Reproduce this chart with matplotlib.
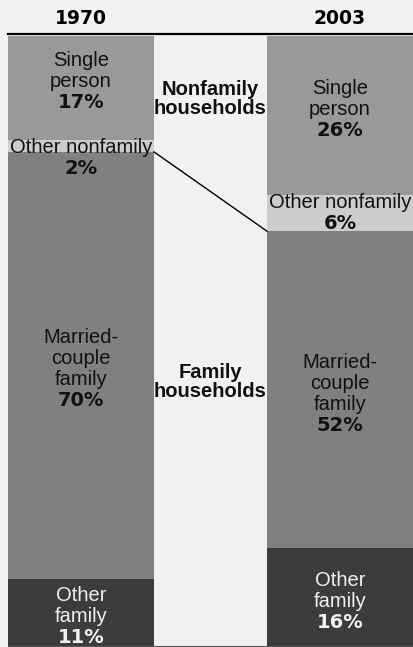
import matplotlib.pyplot as plt

# данi: частки домогосподарств, %, зверху вниз
years = ["1970", "2003"]
categories = ["Single person", "Other nonfamily", "Married-couple family", "Other family"]
labels = [["Single", "person"], ["Other nonfamily"], ["Married-", "couple", "family"], ["Other", "family"]]
values_1970 = [17, 2, 70, 11]
values_2003 = [26, 6, 52, 16]
colors = ["#999999", "#cccccc", "#808080", "#3c3c3c"]
text_colors = ["#111111", "#111111", "#111111", "#f0f0f0"]
group_labels = ["Nonfamily\nhouseholds", "Family\nhouseholds"]
group_y = [10.3, 56.8]

BG = "#f1f1f1"
W, H = 413, 647
fig = plt.figure(figsize=(W / 100, H / 100), dpi=100, facecolor=BG)
ax = fig.add_axes([8 / W, 1 / H, 405 / W, 610 / H])
ax.set_facecolor(BG)

width = 0.5637
xs = [0, 1]
line_px = 21  # відстань між рядками, px
pt = 72 / 100

for x, vals in zip(xs, [values_1970, values_2003]):
    bottom = 0
    for i, v in enumerate(vals):
        ax.bar(x, v, width=width, bottom=bottom, color=colors[i], linewidth=0)
        lines = labels[i] + [f"{v}%"]
        n = len(lines)
        if i == 1:
            # вузька смуга: текст прив'язано до верху
            yc = bottom
            offs = [-(k * line_px + 8) for k in range(n)]
        else:
            yc = bottom + v / 2
            shift = 6 if i == 0 else -4
            offs = [((n - 1) / 2 - k) * line_px + shift for k in range(n)]
        for k, (ln, o) in enumerate(zip(lines, offs)):
            bold = k == n - 1
            ax.annotate(ln, (x, yc), xytext=(0, o * pt), textcoords="offset points",
                        ha="center", va="center", color=text_colors[i],
                        fontsize=14 if bold else 14.5,
                        fontweight="bold" if bold else "normal",
                        family="DejaVu Sans" if bold else "Liberation Sans")
        bottom += v

# лінія між межами сімейних/несімейних
b1 = values_1970[0] + values_1970[1]
b2 = values_2003[0] + values_2003[1]
ax.plot([xs[0] + width / 2, xs[1] - width / 2], [b1, b2], color="black", lw=1.0)

for gl, gy in zip(group_labels, group_y):
    ax.text(0.5, gy, gl, ha="center", va="center", fontsize=14.5, fontweight="bold",
            family="Liberation Sans", linespacing=1.0, color="#111111")

for x, yr in zip(xs, years):
    ax.text(x, -2.9, yr, ha="center", va="center", fontsize=13.5, fontweight="bold",
            family="DejaVu Sans", clip_on=False)

ax.plot([0, 1], [1.0028, 1.0028], transform=ax.transAxes, color="black", lw=1.6, clip_on=False)
ax.plot([0, 1], [0, 0], transform=ax.transAxes, color="#555555", lw=0.8, clip_on=False)

ax.set_xlim(-width / 2, 1 + width / 2)
ax.set_ylim(100, 0)
ax.axis("off")

fig.savefig("out.png", dpi=100, facecolor=BG)
